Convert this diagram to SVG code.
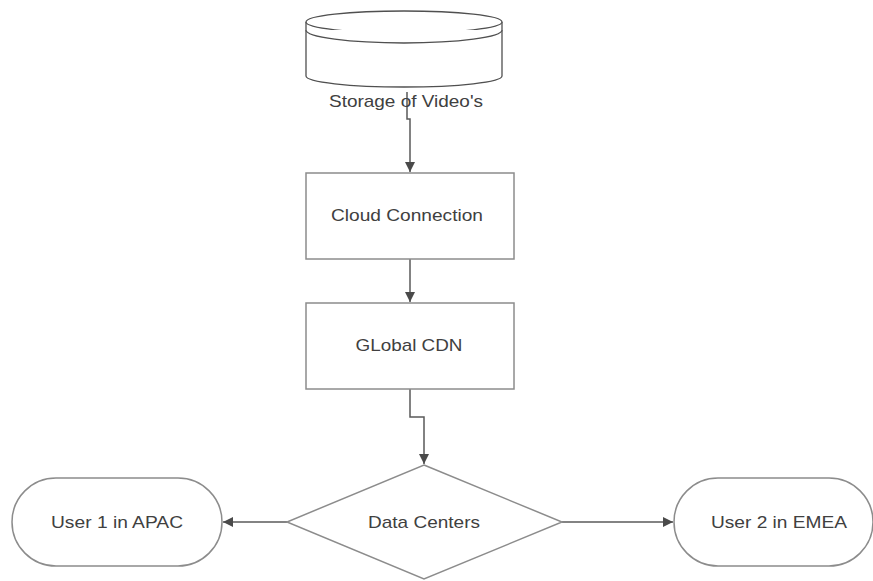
<svg xmlns="http://www.w3.org/2000/svg" width="873" height="581" viewBox="0 0 873 581">
<defs>
<style>
.shape{fill:#fff;stroke:#8c8c8c;stroke-width:1.5}
.cyl{fill:#fff;stroke:#505050;stroke-width:1.3}
.edge{fill:none;stroke:#5a5a5a;stroke-width:1.5}
.lbl{font-family:"Liberation Sans",Arial,sans-serif;font-size:17px;fill:#404040;text-anchor:middle;dominant-baseline:central}
</style>
<marker id="arr" viewBox="0 0 10 10" refX="10" refY="5" markerWidth="10" markerHeight="10" markerUnits="userSpaceOnUse" orient="auto">
<path d="M0,0 L10,5 L0,10 Z" fill="#4a4a4a"/>
</marker>
</defs>
<rect width="873" height="581" fill="#fff"/>
<g id="connectors">
<path class="edge" d="M407,92 V119 H410 V172" marker-end="url(#arr)"/>
<path class="edge" d="M410,259 V302" marker-end="url(#arr)"/>
<path class="edge" d="M410,389 V417 H424 V464" marker-end="url(#arr)"/>
<path class="edge" d="M287,522 H223" marker-end="url(#arr)"/>
<path class="edge" d="M562,522 H673" marker-end="url(#arr)"/>
</g>
<g id="storage">
<path class="cyl" d="M306,22 V76 A98,11 0 0 0 502,76 V22"/>
<ellipse class="cyl" cx="404" cy="22" rx="98" ry="11"/>
<path class="cyl" fill="none" d="M306,30 A98,13 0 0 0 502,30"/>
<text class="lbl" x="406" y="101" textLength="154" lengthAdjust="spacingAndGlyphs">Storage of Video's</text>
</g>
<g id="cloud">
<rect class="shape" x="306" y="173" width="208" height="86"/>
<text class="lbl" x="407" y="215" textLength="152" lengthAdjust="spacingAndGlyphs">Cloud Connection</text>
</g>
<g id="cdn">
<rect class="shape" x="306" y="303" width="208" height="86"/>
<text class="lbl" x="409" y="345" textLength="107" lengthAdjust="spacingAndGlyphs">GLobal CDN</text>
</g>
<g id="datacenters">
<polygon class="shape" points="424,465 562,522 424,579 287,522"/>
<text class="lbl" x="424" y="522" textLength="112" lengthAdjust="spacingAndGlyphs">Data Centers</text>
</g>
<g id="user1">
<rect class="shape" x="12" y="478" width="210" height="88" rx="44" ry="44"/>
<text class="lbl" x="117" y="522" textLength="132" lengthAdjust="spacingAndGlyphs">User 1 in APAC</text>
</g>
<g id="user2">
<rect class="shape" x="674" y="478" width="199" height="88" rx="44" ry="44"/>
<text class="lbl" x="779" y="522" textLength="136" lengthAdjust="spacingAndGlyphs">User 2 in EMEA</text>
</g>
</svg>
